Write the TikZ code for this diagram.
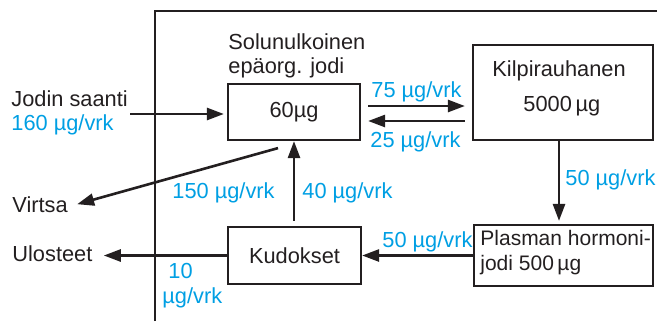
\documentclass[tikz,border=0pt]{standalone}
\usepackage{fontspec}
\setmainfont{Liberation Sans}
\usetikzlibrary{arrows.meta,calc}
\definecolor{ink}{RGB}{35,31,32}
\definecolor{flow}{RGB}{0,159,227}
\begin{document}
\begin{tikzpicture}[x=0.5pt,y=-0.5pt,
  font=\fontsize{10.9}{13}\selectfont,
  box/.style={draw=ink, line width=1.1pt, inner sep=0pt, text=ink},
  lbl/.style={anchor=base west, inner sep=0pt, text=ink},
  rate/.style={lbl, text=flow},
  arr/.style={draw=ink, line width=1.3pt, -{Triangle[length=8.5pt,width=6pt]}}]
\useasboundingbox (0,0) rectangle (657,321);
% frame
\draw[ink, line width=1.4pt] (155,321) -- (155,11) -- (657,11);
% boxes
\node[box, minimum width=66pt, minimum height=28pt] (b60) at (294,112) {60µg};
\node[box, minimum width=90pt, minimum height=47.5pt] (kilp) at (563,92.5) {};
\node[box, minimum width=89.5pt, minimum height=30.5pt] (plasma) at (563.5,255.5) {};
\node[box, minimum width=66.5pt, minimum height=28.5pt] (kud) at (294.5,255.5) {Kudokset};
% texts
\node[lbl] (jodin) at (11,106) {Jodin saanti};
\node[rate] (r160) at (11,130) {160 µg/vrk};
\node[lbl] (sol1) at (228,49) {Solunulkoinen};
\node[lbl] (sol2) at (228,73) {epäorg. jodi};
\node[rate] (r75) at (371,97) {75 µg/vrk};
\node[rate] (r25) at (370,147) {25 µg/vrk};
\node[lbl] (kt1) at (492,76) {Kilpirauhanen};
\node[lbl] (kt2) at (523,111) {5000\,µg};
\node[rate] (r50a) at (565,185) {50 µg/vrk};
\node[lbl, font=\fontsize{10.5}{13}\selectfont] (pt1) at (480,245) {Plasman hormoni-};
\node[lbl, font=\fontsize{10.5}{13}\selectfont] (pt2) at (480,270) {jodi 500\,µg};
\node[rate] (r50b) at (382,247) {50 µg/vrk};
\node[rate] (r40) at (302,198) {40 µg/vrk};
\node[rate] (r150) at (172,198) {150 µg/vrk};
\node[lbl] (virtsa) at (12,212) {Virtsa};
\node[lbl] (ulosteet) at (12,261) {Ulosteet};
\node[rate] (r10a) at (168,278) {10};
\node[rate] (r10b) at (162,303) {µg/vrk};
% connectors
\coordinate (jin) at (130,114);
\draw[arr] (jin) -- ($(jin -| b60.west)+(-3,0)$);
\draw[arr] ($(b60.east)+(7,-6)$) -- ($(kilp.west |- b60.east)+(-7,-6)$);
\draw[arr] ($(kilp.west |- b60.east)+(-7,9)$) -- ($(b60.east)+(7,9)$);
\draw[arr] ($(kilp.south)+(-4,0)$) -- ($(plasma.north)+(-4.5,-3)$);
\draw[arr] (plasma.west) -- (kud.east);
\draw[arr] ($(b60.south |- kud.north)+(0,-5)$) -- (b60.south);
\draw[arr] ($(b60.south)+(-16,7)$) -- ($(virtsa.east)+(9,0)$);
\draw[arr] (kud.west) -- ($(kud.west -| ulosteet.east)+(11,0)$);
\end{tikzpicture}
\end{document}
